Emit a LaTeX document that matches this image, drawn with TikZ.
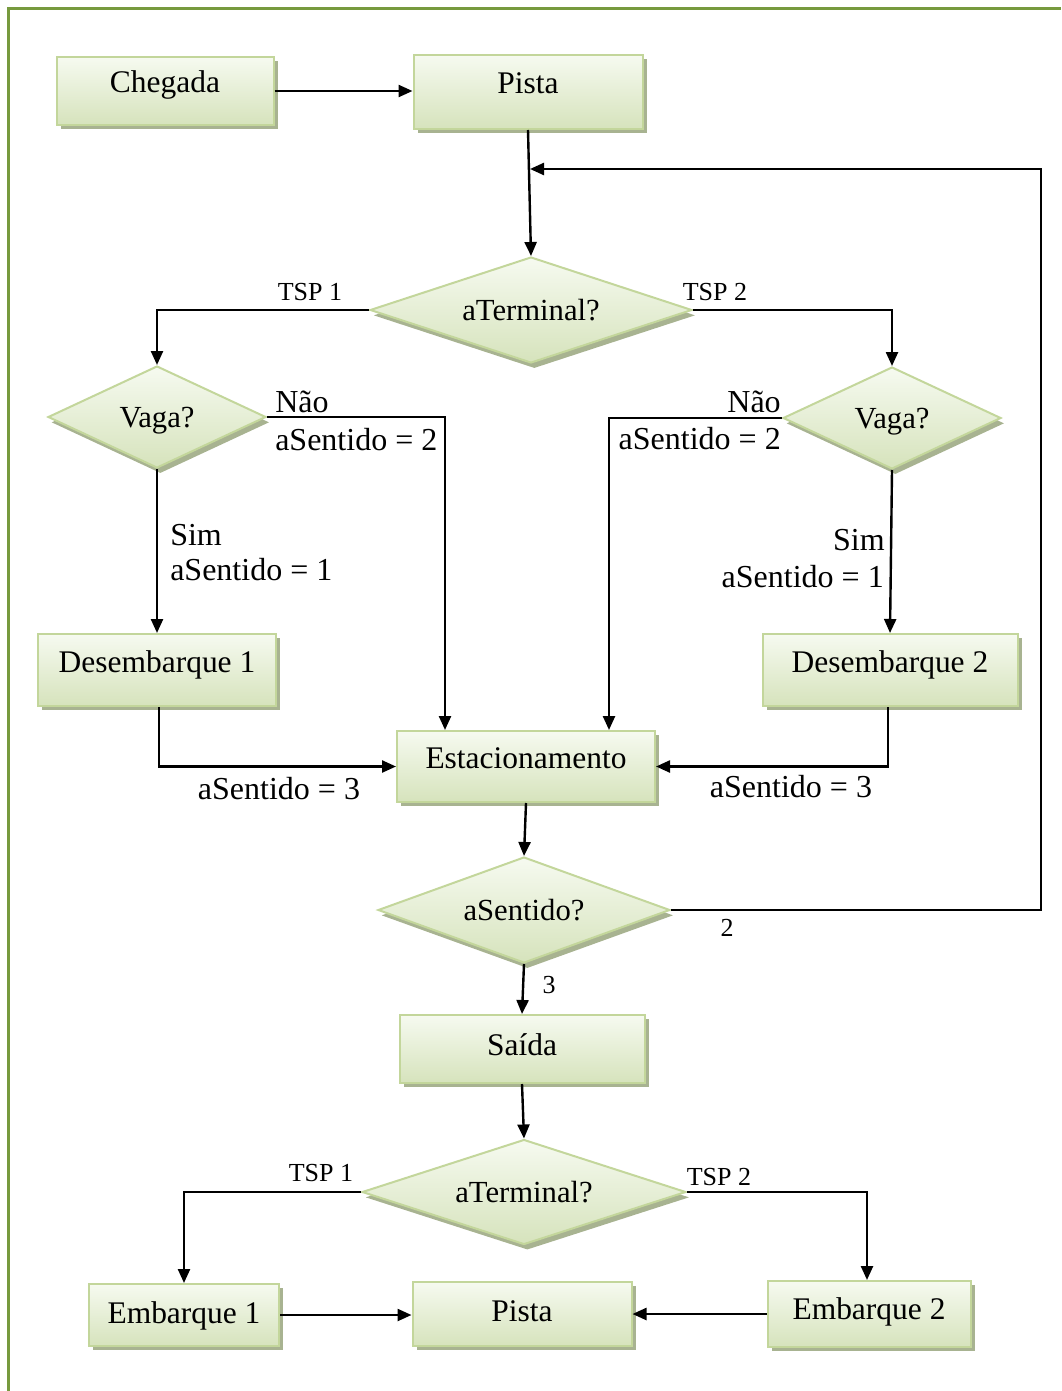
\documentclass[tikz,border=0pt]{standalone}
\usepackage{fontspec}
\setmainfont{Liberation Serif}
\usetikzlibrary{shapes.geometric,shadows,arrows.meta,calc}
\newdimen\pxu \pxu=0.75pt
\newcommand{\lowr}[1]{\raisebox{-3.5pt}{#1}}
\newcommand{\lowv}[1]{\raisebox{-2.5pt}[\height][\depth]{#1}}
\definecolor{framec}{HTML}{779A3E}
\definecolor{bord}{HTML}{C3D69B}
\definecolor{topc}{HTML}{F6FAF0}
\definecolor{botc}{HTML}{D6E3BC}
\definecolor{shadc}{HTML}{A8B391}
\begin{document}
\begin{tikzpicture}[x=0.75pt,y=-0.75pt,
  fbox/.style={rectangle, draw=bord, line width=1.5pt, top color=topc, bottom color=botc,
    drop shadow={shadow xshift=3pt, shadow yshift=-3pt, fill=shadc, opacity=1},
    font=\fontsize{23.6}{28}\selectfont, text height=0.7em, text depth=0.4em, inner sep=0pt},
  dia/.style={diamond, draw=bord, line width=1.5pt, top color=topc, bottom color=botc,
    drop shadow={shadow xshift=2.5pt, shadow yshift=-4pt, fill=shadc, opacity=1},
    font=\fontsize{23}{27}\selectfont, inner sep=0pt, aspect=3},
  arr/.style={line width=1.8pt, -{Triangle[length=10.5pt,width=9pt]}},
  lbl/.style={font=\fontsize{24}{28}\selectfont, inner sep=0pt},
  sml/.style={font=\fontsize{19.5}{23}\selectfont, inner sep=0pt}
]
\useasboundingbox (0,0) rectangle (1061,1391);
\draw[framec, line width=2pt] (8.7,1391) -- (8.7,8.7) -- (1061,8.7);

% boxes
\node[fbox, minimum width=217*\pxu, minimum height=68*\pxu] (cheg) at (165,91) {Chegada};
\node[fbox, minimum width=229*\pxu, minimum height=74*\pxu] (pista1) at (528,92) {Pista};
\node[fbox, minimum width=238*\pxu, minimum height=72*\pxu] (des1) at (157,670) {Desembarque 1};
\node[fbox, minimum width=255*\pxu, minimum height=72*\pxu] (des2) at (890,670) {Desembarque 2};
\node[fbox, minimum width=258*\pxu, minimum height=71*\pxu] (est) at (526,766.5) {Estacionamento};
\node[fbox, minimum width=245*\pxu, minimum height=68*\pxu] (said) at (522,1049) {\lowr{Saída}};
\node[fbox, minimum width=190*\pxu, minimum height=62*\pxu] (emb1) at (184,1315) {\raisebox{-4.5pt}{Embarque 1}};
\node[fbox, minimum width=219*\pxu, minimum height=64*\pxu] (pista2) at (522,1314) {\raisebox{-4pt}{Pista}};
\node[fbox, minimum width=203*\pxu, minimum height=66*\pxu] (emb2) at (869,1314) {\raisebox{-2.5pt}{Embarque 2}};

% diamonds
\node[dia, minimum width=322*\pxu, minimum height=106*\pxu] (dt1) at (531,310) {aTerminal?};
\node[dia, minimum width=218*\pxu, minimum height=102*\pxu] (vl) at (157,417) {\lowv{Vaga?}};
\node[dia, minimum width=218*\pxu, minimum height=102*\pxu] (vr) at (892,418) {\lowv{Vaga?}};
\node[dia, minimum width=292*\pxu, minimum height=106*\pxu] (ds) at (524,910) {aSentido?};
\node[dia, minimum width=324*\pxu, minimum height=105*\pxu] (dt2) at (524,1192) {aTerminal?};

% feedback coordinates
\coordinate (rr) at (1041,169);
\coordinate (fb) at (530,169);
\coordinate (eL) at ($(est.north)+(-81,0)$);
\coordinate (eR) at ($(est.north)+(83,0)$);

% connectors
\draw[arr] (cheg.east) -- (cheg.east -| pista1.west);
\draw[arr] (pista1.south) -- (dt1.north);
\draw[arr] (ds.east) -- (ds.east -| rr) -- (rr) -- (fb);
\draw[arr] (dt1.west) -| (vl.north);
\draw[arr] (dt1.east) -| (vr.north);
\draw[arr] (vl.east) -| (eL);
\draw[arr] (vr.west) -| (eR);
\draw[arr] (vl.south) -- (des1.north);
\draw[arr] (vr.south) -- (des2.north);
\draw[arr] ([xshift=2*\pxu]des1.south) |- (est.west);
\draw[arr] ([xshift=-2*\pxu]des2.south) |- (est.east);
\draw[arr] (est.south) -- (ds.north);
\draw[arr] (ds.south) -- (said.north);
\draw[arr] (said.south) -- (dt2.north);
\draw[arr] (dt2.west) -| (emb1.north);
\draw[arr] (dt2.east) -| ([xshift=-2*\pxu]emb2.north);
\draw[arr] (emb1.east) -- (emb1.east -| pista2.west);
\draw[arr] (emb2.west) -- (emb2.west -| pista2.east);

% labels
\node[sml] (t1) at (310,292) {TSP 1};
\node[sml] (t2) at (715,292) {TSP 2};
\node[lbl, anchor=west] (n1) at (275,402) {Não};
\node[lbl, anchor=west] (s2a) at (275,440) {aSentido = 2};
\node[lbl, anchor=east] (n2) at (781,402) {Não};
\node[lbl, anchor=east] (s2b) at (781,439) {aSentido = 2};
\node[lbl, anchor=west] (sim1) at (170,535) {Sim};
\node[lbl, anchor=west] (s1a) at (170,570) {aSentido = 1};
\node[lbl, anchor=east] (sim2) at (885,540) {Sim};
\node[lbl, anchor=east] (s1b) at (884,577) {aSentido = 1};
\node[lbl] (s3a) at (279,789) {aSentido = 3};
\node[lbl] (s3b) at (791,787) {aSentido = 3};
\node[sml] (l2) at (727,928) {2};
\node[sml] (l3) at (549,985) {3};
\node[sml] (t3) at (321,1173) {TSP 1};
\node[sml] (t4) at (719,1177) {TSP 2};
\end{tikzpicture}
\end{document}
